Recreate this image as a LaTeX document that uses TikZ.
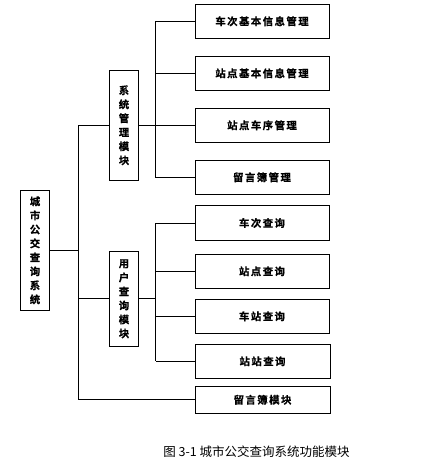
\documentclass[tikz,border=0pt]{standalone}
\usepackage{fontspec}
\newfontfamily\cjk{Noto Sans CJK SC}
\newfontfamily\cjkb[LetterSpace=14,FakeBold=0.6]{Noto Sans CJK SC Bold}
\begin{document}
\begin{tikzpicture}[x=1pt,y=-1pt,
  box/.style={draw,line width=0.9pt,inner sep=0pt,font=\cjkb\fontsize{10.4}{11}\selectfont},
  vbox/.style={box,align=center,font=\cjkb\fontsize{10.4}{14}\selectfont},
  ln/.style={line width=0.9pt}]
\useasboundingbox (0,0) rectangle (430,468);
% leaf boxes
\node[box,minimum width=134pt,minimum height=34pt] (b1) at (262,21.3) {车次基本信息管理};
\node[box,minimum width=134pt,minimum height=34pt] (b2) at (262,73.3) {站点基本信息管理};
\node[box,minimum width=134pt,minimum height=34pt] (b3) at (262,125.3) {站点车序管理};
\node[box,minimum width=134pt,minimum height=34pt] (b4) at (262,177.3) {留言簿管理};
\node[box,minimum width=134pt,minimum height=34.6pt] (b5) at (262,223) {车次查询};
\node[box,minimum width=134pt,minimum height=34pt] (b6) at (262,271.3) {站点查询};
\node[box,minimum width=134pt,minimum height=34pt] (b7) at (262,316.3) {车站查询};
\node[box,minimum width=135pt,minimum height=34pt] (b8) at (262.5,361.3) {站站查询};
\node[box,minimum width=135pt,minimum height=27pt] (b9) at (262.5,399.8) {留言簿模块};
% module boxes
\node[vbox,minimum width=28.6pt,minimum height=110pt] (sys) at (124,125.3) {系\\统\\管\\理\\模\\块};
\node[vbox,minimum width=28.6pt,minimum height=95pt] (usr) at (124,298.8) {用\\户\\查\\询\\模\\块};
\node[vbox,minimum width=28.6pt,minimum height=119.3pt] (root) at (35,250.4) {城\\市\\公\\交\\查\\询\\系\\统};
% trunk
\coordinate (t1) at (78.3,125.3);
\coordinate (t2) at (78.3,399.8);
\coordinate (tr) at (78.3,250.4);
\draw[ln] (t1) -- (t2);
\draw[ln] (root.east) -- (tr);
\draw[ln] (t1) -- (sys.west);
\draw[ln] (usr.west) -- (usr.west -| t1);
\draw[ln] (t2) -- (b9.west);
% system branch
\coordinate (s1) at (155.3,21.3);
\coordinate (s2) at (155.3,177.3);
\draw[ln] (s1) -- (s2);
\draw[ln] (sys.east) -- (sys.east -| s1);
\foreach \b in {b1,b2,b3,b4} \draw[ln] (\b.west -| s1) -- (\b.west);
% user branch
\coordinate (u1) at (155.8,223);
\coordinate (u2) at (155.8,361.3);
\draw[ln] (u1) -- (u2);
\draw[ln] (usr.east) -- (usr.east -| u1);
\foreach \b in {b5,b6,b7,b8} \draw[ln] (\b.west -| u1) -- (\b.west);
% caption
\node[font=\cjk\fontsize{12.5}{14}\selectfont,anchor=center] (cap) at (256.5,452) {图 3-1 城市公交查询系统功能模块};
\end{tikzpicture}
\end{document}
